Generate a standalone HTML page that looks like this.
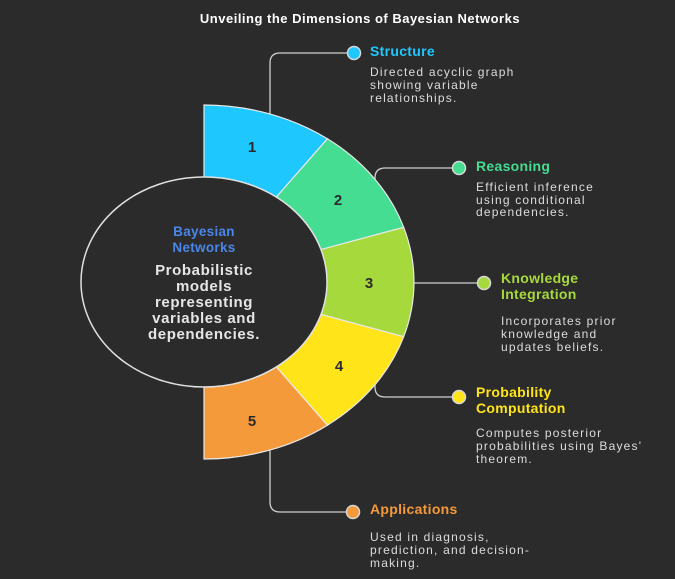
<!DOCTYPE html>
<html><head><meta charset="utf-8"><style>
html,body{margin:0;padding:0;background:#2b2b2b;}
svg{display:block;font-family:"Liberation Sans",sans-serif;}
.d{fill:#dcdcdc;font-size:12px;letter-spacing:1.2px;}
.t{font-size:14px;font-weight:bold;letter-spacing:0.3px;}
</style></head><body>
<svg width="675" height="579" viewBox="0 0 675 579">
<rect width="675" height="579" fill="#2b2b2b"/>
<text x="360" y="23" text-anchor="middle" fill="#fff" font-size="13" font-weight="bold" letter-spacing="0.5">Unveiling the Dimensions of Bayesian Networks</text>
<g fill="none" stroke="#cfcfcf" stroke-width="1.3">
<path d="M270,120 V63 Q270,53 280,53 H347"/>
<path d="M375,240 V178 Q375,168 385,168 H452"/>
<path d="M400,283 H477"/>
<path d="M375,330 V387 Q375,397 385,397 H452"/>
<path d="M270,440 V502 Q270,512 280,512 H346"/>
</g>
<g stroke="#d8d8d8" stroke-width="1.5">
<circle cx="354" cy="53" r="6.5" fill="#1ec8ff"/>
<circle cx="459" cy="168" r="6.5" fill="#44dd91"/>
<circle cx="484" cy="283" r="6.5" fill="#a6d93b"/>
<circle cx="459" cy="397" r="6.5" fill="#ffe41a"/>
<circle cx="353" cy="512" r="6.5" fill="#f59a3a"/>
</g>
<g stroke="#e8e8e8" stroke-width="1.2">
<path d="M204,105 A210,177 0 0 1 327.4,138.8 L276.3,197.1 A123,105 0 0 0 204,177 Z" fill="#1ec8ff"/>
<path d="M327.4,138.8 A210,177 0 0 1 403.7,227.3 L321,249.6 A123,105 0 0 0 276.3,197.1 Z" fill="#44dd91"/>
<path d="M403.7,227.3 A210,177 0 0 1 403.7,336.7 L321,314.4 A123,105 0 0 0 321,249.6 Z" fill="#a6d93b"/>
<path d="M403.7,336.7 A210,177 0 0 1 327.4,425.2 L276.3,366.9 A123,105 0 0 0 321,314.4 Z" fill="#ffe41a"/>
<path d="M327.4,425.2 A210,177 0 0 1 204,459 L204,387 A123,105 0 0 0 276.3,366.9 Z" fill="#f59a3a"/>
</g>
<ellipse cx="204" cy="282" rx="123" ry="105" fill="#2b2b2b" stroke="#e0e0e0" stroke-width="1.5"/>
<g fill="#2b2b2b" font-size="15" font-weight="bold" text-anchor="middle">
<text x="252" y="152">1</text><text x="338" y="205">2</text><text x="369" y="288">3</text><text x="339" y="371">4</text><text x="252" y="426">5</text>
</g>
<g text-anchor="middle">
<text x="204" y="236" fill="#4a86e8" font-size="13.5" font-weight="bold" letter-spacing="0.3">Bayesian</text>
<text x="204" y="252" fill="#4a86e8" font-size="13.5" font-weight="bold" letter-spacing="0.3">Networks</text>
<g fill="#e6e6e6" font-size="15" font-weight="bold" letter-spacing="0.6">
<text x="204" y="275">Probabilistic</text><text x="204" y="291">models</text><text x="204" y="307">representing</text><text x="204" y="323">variables and</text><text x="204" y="339">dependencies.</text>
</g></g>
<text x="370" y="56" class="t" fill="#1ec8ff">Structure</text>
<text x="370" y="76" class="d">Directed acyclic graph</text><text x="370" y="89" class="d">showing variable</text><text x="370" y="102" class="d">relationships.</text>
<text x="476" y="171" class="t" fill="#44dd91">Reasoning</text>
<text x="476" y="191" class="d">Efficient inference</text><text x="476" y="204" class="d">using conditional</text><text x="476" y="216" class="d">dependencies.</text>
<text x="501" y="283" class="t" fill="#a6d93b">Knowledge</text><text x="501" y="299" class="t" fill="#a6d93b">Integration</text>
<text x="501" y="325" class="d">Incorporates prior</text><text x="501" y="338" class="d">knowledge and</text><text x="501" y="351" class="d">updates beliefs.</text>
<text x="476" y="397" class="t" fill="#ffe41a">Probability</text><text x="476" y="413" class="t" fill="#ffe41a">Computation</text>
<text x="476" y="437" class="d">Computes posterior</text><text x="476" y="450" class="d" letter-spacing="0.5">probabilities using Bayes'</text><text x="476" y="463" class="d">theorem.</text>
<text x="370" y="514" class="t" fill="#f59a3a">Applications</text>
<text x="370" y="541" class="d">Used in diagnosis,</text><text x="370" y="554" class="d">prediction, and decision-</text><text x="370" y="567" class="d">making.</text>
</svg>
</body></html>
